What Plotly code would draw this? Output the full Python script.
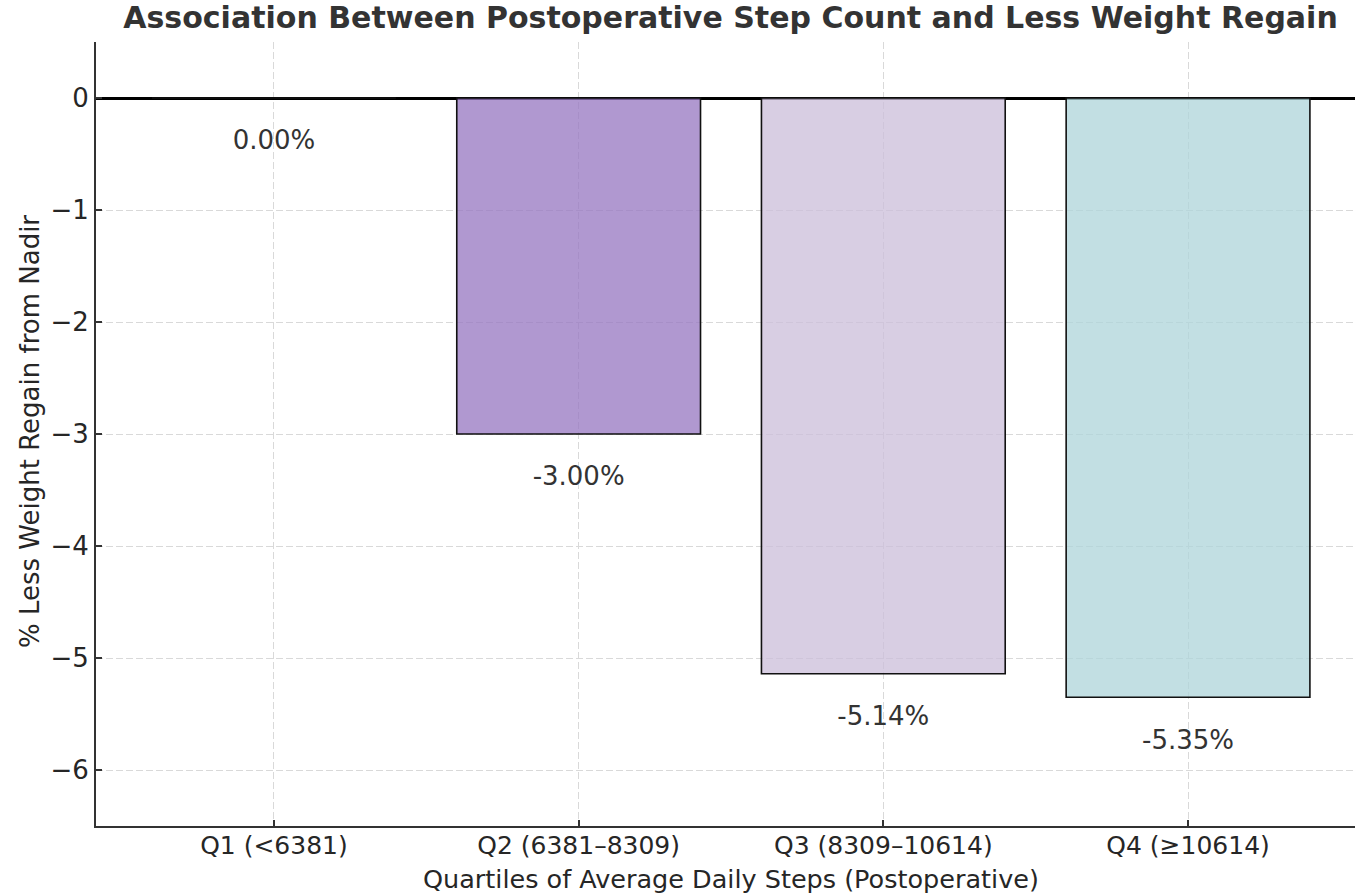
import plotly.graph_objects as go

categories = ["Q1 (<6381)", "Q2 (6381–8309)", "Q3 (8309–10614)", "Q4 (≥10614)"]
values = [0.0, -3.00, -5.14, -5.35]
labels = ["0.00%", "-3.00%", "-5.14%", "-5.35%"]
bar_colors = ["rgba(255,255,255,0.0)", "rgba(150,118,192,0.75)", "rgba(203,190,218,0.75)", "rgba(174,212,218,0.75)"]
y_ticks = [0, -1, -2, -3, -4, -5, -6]

FONT = "DejaVu Sans"
TXT = "#333333"
FS = 26

fig = go.Figure()
fig.add_trace(go.Bar(
    x=categories, y=values, width=0.8,
    marker=dict(color=bar_colors, line=dict(color="#111111", width=1.6)),
    showlegend=False, hoverinfo="skip",
))
fig.add_trace(go.Scatter(
    x=categories, y=[v - 0.4 for v in values], mode="text", text=labels,
    textposition="middle center",
    textfont=dict(family=FONT, size=FS, color=TXT),
    showlegend=False, hoverinfo="skip",
))

fig.update_layout(
    width=1355, height=893,
    margin=dict(l=96, r=0, t=42, b=67),
    paper_bgcolor="white", plot_bgcolor="white",
    font=dict(family=FONT, size=FS, color=TXT),
    title=dict(text="<b>Association Between Postoperative Step Count and Less Weight Regain</b>",
               x=0.504, xref="paper", xanchor="center",
               y=0.98, yref="container", yanchor="middle",
               font=dict(family=FONT, size=30, color=TXT)),
    bargap=0.2,
)
fig.update_xaxes(
    range=[-0.584, 3.548], showline=True, linecolor="#333333", linewidth=2,
    ticks="inside", ticklen=6, tickcolor="#333333", tickwidth=1.5,
    ticklabelstandoff=-4,
    showgrid=True, gridcolor="#d9d9d9", griddash="7px,3px", gridwidth=1,
    tickfont=dict(family=FONT, size=25, color="#262626"),
    mirror=False,
)
fig.update_yaxes(
    range=[-6.5, 0.5], tickvals=y_ticks, showline=True, linecolor="#333333", linewidth=2,
    ticks="inside", ticklen=6, tickcolor="#333333", tickwidth=1.5,
    showgrid=True, gridcolor="#d9d9d9", griddash="7px,3px", gridwidth=1,
    zeroline=True, zerolinecolor="#000000", zerolinewidth=2.5,
    tickfont=dict(family=FONT, size=FS, color="#262626"),
    mirror=False,
)
fig.add_annotation(text="Quartiles of Average Daily Steps (Postoperative)", xref="paper", yref="paper",
                   x=0.504, y=-(879 - 826) / 784, xanchor="center", yanchor="middle", showarrow=False,
                   font=dict(family=FONT, size=25.5, color="#262626"))
fig.add_annotation(text="% Less Weight Regain from Nadir", xref="paper", yref="paper",
                   x=-(96 - 30) / 1259, y=(826 - 432) / 784, xanchor="center", yanchor="middle",
                   textangle=-90, showarrow=False,
                   font=dict(family=FONT, size=FS, color="#262626"))

fig.write_html("out.html")
